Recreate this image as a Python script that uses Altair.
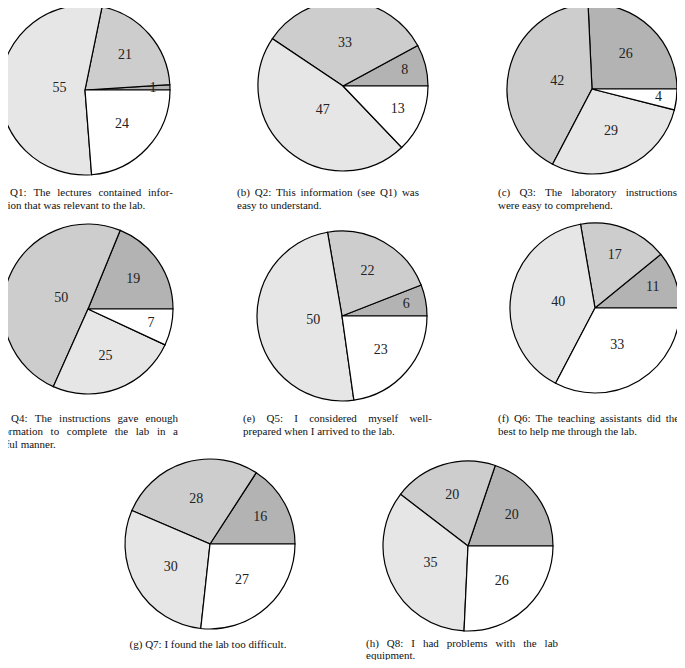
import math
import altair as alt
import pandas as pd

# ---- data (slices drawn counter-clockwise from 3 o'clock) ----
questions = ["Q1", "Q2", "Q3", "Q4", "Q5", "Q6", "Q7", "Q8"]
responses = ["R1", "R2", "R3", "R4"]
q1 = [1, 21, 55, 24]
q2 = [8, 33, 47, 13]
q3 = [26, 42, 29, 4]
q4 = [19, 50, 25, 7]
q5 = [6, 22, 50, 23]
q6 = [11, 17, 40, 33]
q7 = [16, 28, 30, 27]
q8 = [20, 20, 35, 26]
all_values = [q1, q2, q3, q4, q5, q6, q7, q8]

captions = [
    ["(a) Q1: The lectures contained infor-", "mation that was relevant to the lab."],
    ["(b) Q2: This information (see Q1) was", "easy to understand."],
    ["(c) Q3: The laboratory instructions", "were easy to comprehend."],
    ["(d) Q4: The instructions gave enough", "information to complete the lab in a", "useful manner."],
    ["(e) Q5: I considered myself well-", "prepared when I arrived to the lab."],
    ["(f) Q6: The teaching assistants did their", "best to help me through the lab."],
    ["(g) Q7: I found the lab too difficult."],
    ["(h) Q8: I had problems with the lab", "equipment."],
]

rows = []
for q, vals in zip(questions, all_values):
    for i, (r, v) in enumerate(zip(responses, vals)):
        rows.append({"question": q, "response": r, "order": i, "value": v})
df = pd.DataFrame(rows)

# ---- layout / style ----
R = 85
fills = ["#b3b3b3", "#cdcdcd", "#e6e6e6", "#ffffff"]
centers = [(77, 82), (335, 78), (584, 81),
           (80, 301), (334, 308), (587, 300),
           (202, 536), (460, 538)]
# caption column (left, right) and first baseline, in chart pixels
cap_cols = [(-17, 165, 188), (229, 411, 188), (490, 669, 188),
            (-17, 170, 414), (235, 424, 414), (490, 678, 414),
            (None, 200, 640), (358, 550, 639)]
LINE_H = [13, 13, 13, 13, 13, 13, 13, 12]
FONT = "Liberation Serif"
FS = 11

# Times-compatible advance widths (1/1000 em) for spacing justified caption words
W = {" ": 250, "(": 333, ")": 333, ",": 250, "-": 333, ".": 250, ":": 278,
     "I": 333, "Q": 722, "T": 611}
W.update({d: 500 for d in "0123456789"})
W.update(dict(zip("abcdefghijklmnopqrstuvwxyz",
                  [444, 500, 444, 500, 444, 333, 500, 500, 278, 278, 500, 278, 778,
                   500, 500, 500, 500, 333, 389, 278, 500, 500, 722, 500, 500, 444])))


def text_w(s):
    return sum(W.get(c, 500) for c in s) * FS / 1000.0


theta_scale = alt.Scale(domain=[0, 1], range=[2.5 * math.pi, 0.5 * math.pi])
color_scale = alt.Scale(domain=responses, range=fills)

base = (
    alt.Chart(df)
    .transform_joinaggregate(total="sum(value)", groupby=["question"])
    .transform_window(cum="sum(value)", groupby=["question"],
                      sort=[alt.SortField("order")], frame=[None, 0])
    .transform_calculate(
        start="(datum.cum - datum.value) / datum.total",
        end="datum.cum / datum.total",
        mid="(datum.cum - datum.value / 2) / datum.total",
        lr=f"{R} * (0.8 - clamp(0.9818 * datum.value / datum.total - 0.0273, 0, 0.5))",
    )
)

one = pd.DataFrame({"k": [0]})


def word_layer(txt, x, y, align="left"):
    return alt.Chart(one).mark_text(
        font=FONT, fontSize=FS, align=align, baseline="alphabetic", color="#111111"
    ).encode(text=alt.value(txt), x=alt.value(x), y=alt.value(y))


layers = []
for q, (cx, cy), lines, (left, right, y0), lh in zip(questions, centers, captions, cap_cols, LINE_H):
    sub = base.transform_filter(alt.datum.question == q)
    arcs = sub.mark_arc(radius=R, stroke="black", strokeWidth=1.2).encode(
        theta=alt.Theta("start:Q", scale=theta_scale, stack=None),
        theta2="end:Q",
        color=alt.Color("response:N", scale=color_scale, legend=None),
        x=alt.value(cx),
        y=alt.value(cy),
    )
    labels = sub.mark_text(font=FONT, fontSize=14, color="#222222").encode(
        theta=alt.Theta("mid:Q", scale=theta_scale, stack=None),
        radius=alt.Radius("lr:Q", scale=None),
        text=alt.Text("value:Q"),
        x=alt.value(cx),
        y=alt.value(cy),
    )
    layers += [arcs, labels]
    for li, line in enumerate(lines):
        y = y0 + li * lh
        if left is None:  # single centred line
            layers.append(word_layer(line, right, y, "center"))
        elif li == len(lines) - 1:  # last line: natural spacing
            layers.append(word_layer(line, left, y))
        else:  # justified line
            words = line.split(" ")
            ws = [text_w(w) for w in words]
            gap = (right - left - sum(ws)) / (len(words) - 1)
            x = left
            for w, ww in zip(words, ws):
                layers.append(word_layer(w, round(x, 1), y))
                x += ww + gap

chart = (
    alt.layer(*layers)
    .properties(width=669, height=652, padding=0,
                autosize=alt.AutoSizeParams(type="none"))
    .configure_view(stroke=None)
)

chart.save("out.html", embed_options={"renderer": "svg", "actions": False})
